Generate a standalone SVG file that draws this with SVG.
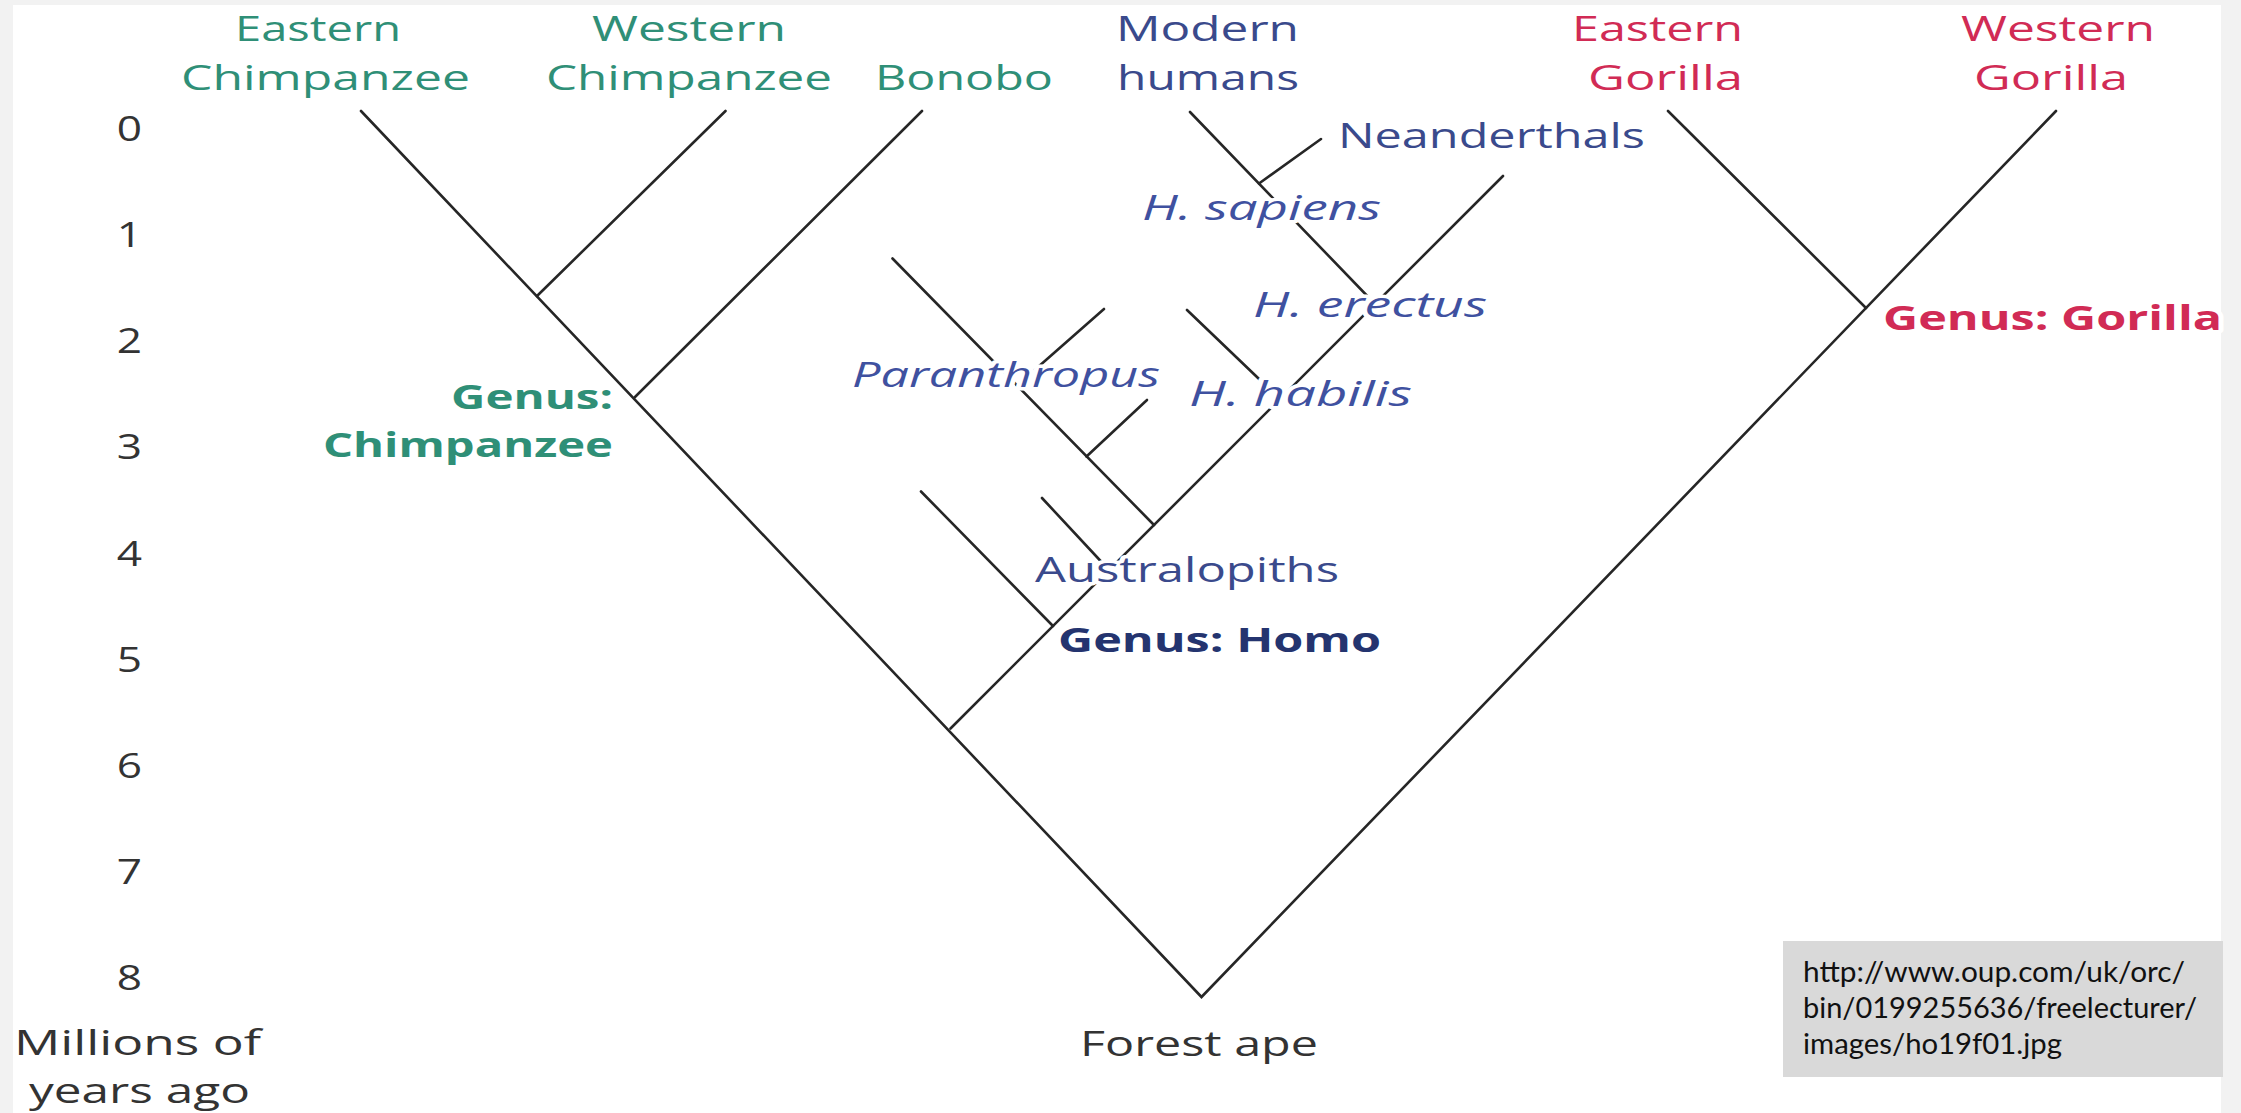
<svg xmlns="http://www.w3.org/2000/svg" width="2241" height="1113" viewBox="0 0 2241 1113">
<style>
.lbl{font-family:"Open Sans","Noto Sans","DejaVu Sans",sans-serif;font-size:34px;stroke:#fff;stroke-width:7px;stroke-linejoin:round;paint-order:stroke}
.chimp{fill:#2f8f77}
.human{fill:#3a4a8c}
.sp{fill:#3f51a0;font-style:italic}
.gor{fill:#d12b55}
.bold{font-weight:bold}
.homo{fill:#24346f}
.axis{fill:#333;font-family:"Open Sans","Noto Sans",sans-serif;font-size:34px}
.cite{fill:#111;font-family:Lato,"Liberation Sans",sans-serif;font-size:29px}
.ln{stroke:#262626;stroke-width:2.6;fill:none;stroke-linecap:round}
</style>
<rect x="0" y="0" width="2241" height="1113" fill="#f2f2f2"/>
<rect x="13" y="5" width="2208" height="1108" fill="#ffffff"/>

<g id="connectors">
<polyline class="ln" points="361,111 1201.5,997 2056,111"/>
<line class="ln" x1="725.5" y1="111" x2="537" y2="296"/>
<line class="ln" x1="922" y1="111" x2="635" y2="397"/>
<line class="ln" x1="950.5" y1="728.5" x2="1503" y2="176"/>
<line class="ln" x1="1190" y1="112" x2="1375" y2="304"/>
<line class="ln" x1="1321" y1="139" x2="1259" y2="183.5"/>
<line class="ln" x1="1187" y1="310" x2="1280" y2="399"/>
<line class="ln" x1="892.5" y1="258.5" x2="1154" y2="525"/>
<line class="ln" x1="1104" y1="309" x2="1017" y2="385.6"/>
<line class="ln" x1="1147" y1="400" x2="1086.5" y2="456.5"/>
<line class="ln" x1="1042" y1="498" x2="1109" y2="570"/>
<line class="ln" x1="921" y1="491.5" x2="1053" y2="626"/>
<line class="ln" x1="1668" y1="111" x2="1866" y2="308"/>
</g>

<g id="axis">
<g transform="translate(129.5,0) scale(1.3,1)">
<text class="axis" x="0" y="141" text-anchor="middle">0</text>
<text class="axis" x="0" y="247" text-anchor="middle">1</text>
<text class="axis" x="0" y="353.5" text-anchor="middle">2</text>
<text class="axis" x="0" y="459.5" text-anchor="middle">3</text>
<text class="axis" x="0" y="566" text-anchor="middle">4</text>
<text class="axis" x="0" y="672" text-anchor="middle">5</text>
<text class="axis" x="0" y="778" text-anchor="middle">6</text>
<text class="axis" x="0" y="884.5" text-anchor="middle">7</text>
<text class="axis" x="0" y="990.5" text-anchor="middle">8</text>
</g>
<text class="axis" x="14" y="1055" textLength="247" lengthAdjust="spacingAndGlyphs">Millions of</text>
<text class="axis" x="29" y="1103" textLength="221" lengthAdjust="spacingAndGlyphs">years ago</text>
</g>

<g id="eastern-chimpanzee">
<text class="lbl chimp" x="235" y="41" textLength="166" lengthAdjust="spacingAndGlyphs">Eastern</text>
<text class="lbl chimp" x="181" y="90" textLength="289" lengthAdjust="spacingAndGlyphs">Chimpanzee</text>
</g>
<g id="western-chimpanzee">
<text class="lbl chimp" x="592" y="41" textLength="194" lengthAdjust="spacingAndGlyphs">Western</text>
<text class="lbl chimp" x="546" y="90" textLength="286" lengthAdjust="spacingAndGlyphs">Chimpanzee</text>
</g>
<g id="bonobo">
<text class="lbl chimp" x="875" y="90" textLength="178" lengthAdjust="spacingAndGlyphs">Bonobo</text>
</g>
<g id="modern-humans">
<text class="lbl human" x="1116" y="41" textLength="183" lengthAdjust="spacingAndGlyphs">Modern</text>
<text class="lbl human" x="1117" y="90" textLength="182" lengthAdjust="spacingAndGlyphs">humans</text>
</g>
<g id="eastern-gorilla">
<text class="lbl gor" x="1572" y="41" textLength="171" lengthAdjust="spacingAndGlyphs">Eastern</text>
<text class="lbl gor" x="1588" y="90" textLength="155" lengthAdjust="spacingAndGlyphs">Gorilla</text>
</g>
<g id="western-gorilla">
<text class="lbl gor" x="1961" y="41" textLength="194" lengthAdjust="spacingAndGlyphs">Western</text>
<text class="lbl gor" x="1974" y="90" textLength="154" lengthAdjust="spacingAndGlyphs">Gorilla</text>
</g>
<g id="neanderthals">
<text class="lbl human" x="1338" y="148" textLength="307" lengthAdjust="spacingAndGlyphs">Neanderthals</text>
</g>
<g id="h-sapiens">
<text class="lbl sp" x="1142" y="220" textLength="239" lengthAdjust="spacingAndGlyphs">H. sapiens</text>
</g>
<g id="h-erectus">
<text class="lbl sp" x="1253" y="317" textLength="234" lengthAdjust="spacingAndGlyphs">H. erectus</text>
</g>
<g id="h-habilis">
<text class="lbl sp" x="1189" y="406" textLength="223" lengthAdjust="spacingAndGlyphs">H. habilis</text>
</g>
<g id="paranthropus">
<text class="lbl sp" x="852" y="387" textLength="308" lengthAdjust="spacingAndGlyphs">Paranthropus</text>
</g>
<g id="australopiths">
<text class="lbl human" x="1035" y="582" textLength="304" lengthAdjust="spacingAndGlyphs">Australopiths</text>
</g>
<g id="genus-homo">
<text class="lbl homo bold" x="1058" y="652" textLength="323" lengthAdjust="spacingAndGlyphs">Genus: Homo</text>
</g>
<g id="genus-chimpanzee">
<text class="lbl chimp bold" x="451" y="409" textLength="162" lengthAdjust="spacingAndGlyphs">Genus:</text>
<text class="lbl chimp bold" x="323" y="457" textLength="290" lengthAdjust="spacingAndGlyphs">Chimpanzee</text>
</g>
<g id="genus-gorilla">
<text class="lbl gor bold" x="1883" y="330" textLength="339" lengthAdjust="spacingAndGlyphs">Genus: Gorilla</text>
</g>
<g id="forest-ape">
<text class="axis" x="1080" y="1056" textLength="238" lengthAdjust="spacingAndGlyphs">Forest ape</text>
</g>

<g id="citation">
<rect x="1783" y="941" width="440" height="136" fill="#d9d9d9"/>
<text class="cite" x="1803" y="982" textLength="382" lengthAdjust="spacingAndGlyphs">http://www.oup.com/uk/orc/</text>
<text class="cite" x="1803" y="1018" textLength="394" lengthAdjust="spacingAndGlyphs">bin/0199255636/freelecturer/</text>
<text class="cite" x="1803" y="1054" textLength="259" lengthAdjust="spacingAndGlyphs">images/ho19f01.jpg</text>
</g>
</svg>
